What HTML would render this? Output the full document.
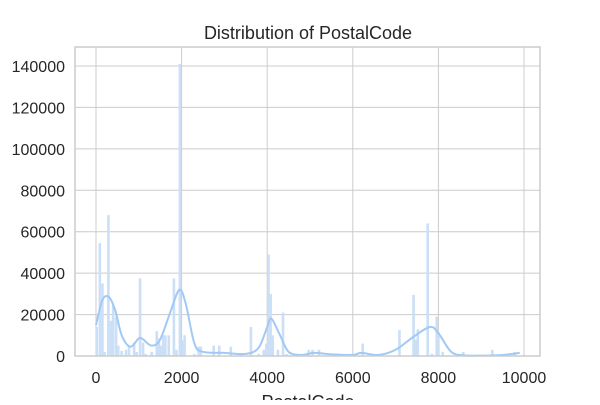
<!DOCTYPE html>
<html><head><meta charset="utf-8"><style>
body{margin:0;background:#fff;}
svg text{font-family:"Liberation Sans",sans-serif;fill:#262626;}
</style></head><body>
<svg id="chart" width="600" height="400" viewBox="0 0 600 400" xmlns="http://www.w3.org/2000/svg">
<rect x="0" y="0" width="600" height="400" fill="#fff"/>
<text x="308" y="39" font-size="18" text-anchor="middle">Distribution of PostalCode</text>
<g id="grid"></g><g id="bars"></g><g id="kde"></g><g id="axes"></g>
<text x="308" y="408" font-size="18" text-anchor="middle">PostalCode</text>
</svg>
<script>
const binCenters=[15,90,150,200,290,350,400,470,520,600,700,770,890,950,1030,1100,1160,1300,1420,1470,1520,1570,1620,1700,1820,1880,1960,2030,2070,2300,2400,2450,2750,2880,3150,3400,3620,3800,3920,3980,4030,4080,4130,4250,4370,4450,4970,5060,5210,6230,7090,7420,7470,7520,7750,7850,7960,8000,8100,8580,9260,9780];
const binCounts=[14000,54500,35000,2000,68000,17000,24500,19000,5000,2500,3000,5000,6500,2000,37500,6500,1000,2000,12000,8500,5000,10000,10000,10000,37500,3000,141000,7500,10000,1000,4500,4500,5000,5000,4500,1000,14000,1000,3000,6000,49000,30000,10000,3000,21000,1000,3000,3000,3000,6000,12500,29500,8000,13000,64000,1000,19000,11500,2000,2000,3000,2000];
const kdeX=[0,150,300,450,600,800,1000,1100,1300,1500,1750,1950,2100,2300,2500,3000,3500,3800,4000,4100,4300,4500,4800,5100,5500,6000,6200,6600,7000,7400,7800,8000,8300,8600,9000,9500,9900];
const kdeY=[15000,27000,28500,22000,10000,4500,8500,8000,5000,8000,22000,32000,25000,6000,2000,1500,1000,4000,14000,18000,10000,2000,500,1500,800,500,1500,500,3000,9000,14000,11000,2000,300,200,500,1500];
const yTicks=[0,20000,40000,60000,80000,100000,120000,140000];
const xTicks=[0,2000,4000,6000,8000,10000];
const L=75,R=540,T=47,B=356;
const xs=v=>96+v*(524-96)/10000;
const ys=v=>B-v*(B-66)/140000;
const NS="http://www.w3.org/2000/svg";
function mk(t,a,p){const e=document.createElementNS(NS,t);for(const k in a)e.setAttribute(k,a[k]);p.appendChild(e);return e;}
const grid=document.getElementById('grid'),bars=document.getElementById('bars'),kde=document.getElementById('kde'),axes=document.getElementById('axes');
yTicks.forEach(v=>{const y=ys(v);
 const g=mk('line',{x1:L,x2:R,y1:y,y2:y,stroke:'#cccccc','stroke-width':1},grid);
 
 
 const t=mk('text',{x:65,y:y+6,'font-size':16,'text-anchor':'end'},axes);t.textContent=v;
 
 
});
xTicks.forEach(v=>{const x=xs(v);
 const g=mk('line',{x1:x,x2:x,y1:T,y2:B,stroke:'#cccccc','stroke-width':1},grid);
 
 
 const t=mk('text',{x:x,y:B+27,'font-size':16,'text-anchor':'middle'},axes);t.textContent=v;
 
 
});
const fr=mk('rect',{x:L,y:T,width:R-L,height:B-T,fill:'none',stroke:'#cccccc','stroke-width':1.5},axes);


binCenters.forEach((c,i)=>{const w=2.6,x=xs(c)-w/2,y=ys(binCounts[i]);
 const r=mk('rect',{x:x,y:y,width:w,height:B-y,fill:'#cbdff6'},bars);
 
 
});
const P=kdeX.map((v,i)=>[xs(v),ys(kdeY[i])]);
let d=`M${P[0][0]},${P[0][1]}`;
for(let i=0;i<P.length-1;i++){const p0=P[Math.max(0,i-1)],p1=P[i],p2=P[i+1],p3=P[Math.min(P.length-1,i+2)];
 d+=` C${p1[0]+(p2[0]-p0[0])/6},${p1[1]+(p2[1]-p0[1])/6} ${p2[0]-(p3[0]-p1[0])/6},${p2[1]-(p3[1]-p1[1])/6} ${p2[0]},${p2[1]}`;}
const kl=mk('path',{d:d,fill:'none',stroke:'#a1c9f4','stroke-width':2},kde);


</script>
</body></html>
